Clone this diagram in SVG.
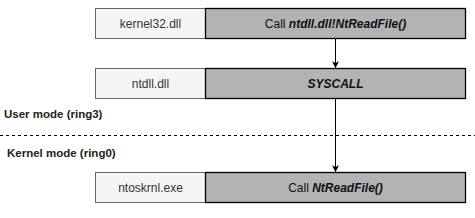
<svg xmlns="http://www.w3.org/2000/svg" width="475" height="218" viewBox="0 0 475 218">
<style>
.lbl{fill:#f5f5f5;stroke:#666;stroke-width:1}
.act{fill:#b3b3b3;stroke:#000;stroke-width:1.3}
.t{font-family:"Liberation Sans",Arial,sans-serif;font-size:12px;fill:#333;text-anchor:middle}
.a{font-family:"Liberation Sans",Arial,sans-serif;font-size:12px;fill:#111;text-anchor:middle}
.bi{font-weight:bold;font-style:italic}
.mode{font-family:"Liberation Sans",Arial,sans-serif;font-size:11.5px;font-weight:bold;fill:#222}
.edge{stroke:#000;stroke-width:1;fill:none}
</style>
<defs>
<marker id="ah" viewBox="0 0 10 10" refX="9" refY="5" markerWidth="7" markerHeight="7" markerUnits="userSpaceOnUse" orient="auto">
<path d="M0,0 L10,5 L0,10 L2.5,5 Z" fill="#000"/>
</marker>
</defs>
<rect width="475" height="218" fill="#fff"/>
<g id="connectors">
<line class="edge" x1="335.5" y1="38" x2="335.5" y2="67.5" marker-end="url(#ah)"/>
<line class="edge" x1="335.5" y1="98" x2="335.5" y2="171.5" marker-end="url(#ah)"/>
</g>
<g id="divider">
<line x1="0" y1="135.5" x2="475" y2="135.5" stroke="#000" stroke-width="1" stroke-dasharray="3 3"/>
</g>
<g id="mode-user"><text class="mode" x="4" y="118">User mode (ring3)</text></g>
<g id="mode-kernel"><text class="mode" x="7" y="157">Kernel mode (ring0)</text></g>
<g id="node-kernel32">
<rect class="lbl" x="95.5" y="8.5" width="110" height="30"/>
<rect class="act" x="205.5" y="8.5" width="260" height="30"/>
<text class="t" x="150.5" y="28">kernel32.dll</text>
<text class="a" x="335.5" y="28">Call <tspan class="bi">ntdll.dll!NtReadFile()</tspan></text>
</g>
<g id="node-ntdll">
<rect class="lbl" x="95.5" y="68.5" width="110" height="30"/>
<rect class="act" x="205.5" y="68.5" width="260" height="30"/>
<text class="t" x="150.5" y="88">ntdll.dll</text>
<text class="a bi" x="335.5" y="88">SYSCALL</text>
</g>
<g id="node-ntoskrnl">
<rect class="lbl" x="95.5" y="172.5" width="110" height="30"/>
<rect class="act" x="205.5" y="172.5" width="260" height="30"/>
<text class="t" x="150.5" y="192">ntoskrnl.exe</text>
<text class="a" x="335.5" y="192">Call <tspan class="bi">NtReadFile()</tspan></text>
</g>
</svg>
